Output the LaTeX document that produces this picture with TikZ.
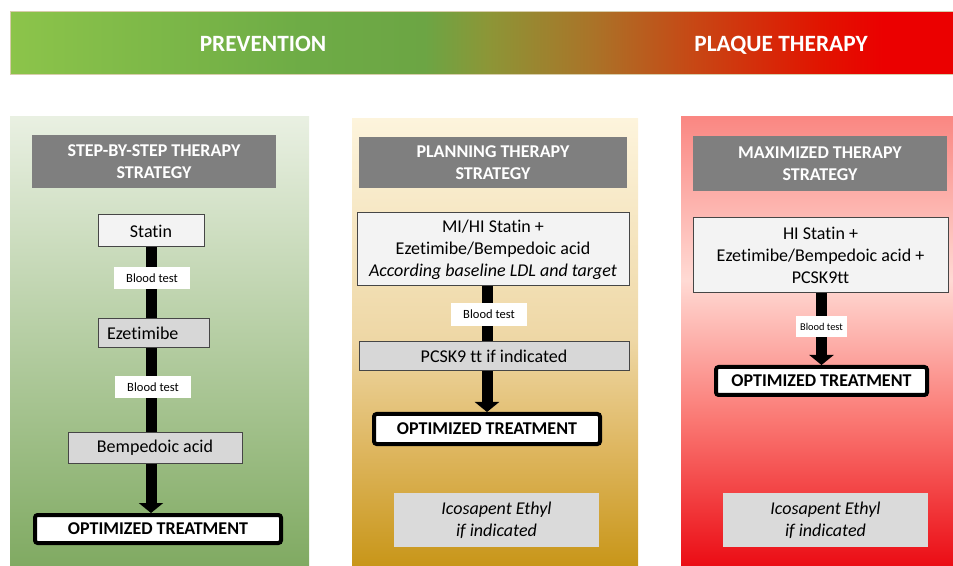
\documentclass[tikz,border=0pt]{standalone}
\usepackage{fontspec}
\setmainfont{Carlito}[Ligatures=NoCommon]
\usetikzlibrary{arrows.meta}

\definecolor{hdrgray}{RGB}{127,127,127}
\definecolor{boxline}{RGB}{70,70,70}
\definecolor{drugfill}{RGB}{215,215,215}
\definecolor{lightfill}{RGB}{243,243,243}
\definecolor{icofill}{RGB}{218,218,218}
\definecolor{banline}{RGB}{215,205,170}
\definecolor{leftTop}{RGB}{233,240,226}
\definecolor{leftBot}{RGB}{128,170,98}

% banner colours, left to right
\definecolor{bnA}{RGB}{140,196,74}
\definecolor{bnB}{RGB}{110,172,70}
\definecolor{bnC}{RGB}{108,165,68}
\definecolor{bnD}{RGB}{140,150,55}
\definecolor{bnE}{RGB}{170,115,40}
\definecolor{bnF}{RGB}{200,70,20}
\definecolor{bnG}{RGB}{225,20,0}
\definecolor{bnH}{RGB}{235,0,0}
\pgfdeclarehorizontalshading{bannershade}{100bp}{color(0bp)=(bnA); color(25bp)=(bnA); color(40.4bp)=(bnB); color(47bp)=(bnC); color(50.3bp)=(bnD); color(55.9bp)=(bnE); color(61.4bp)=(bnF); color(68bp)=(bnG); color(71.3bp)=(bnH); color(100bp)=(bnH)}

% middle panel, bottom to top
\definecolor{midA}{RGB}{200,150,25}
\definecolor{midB}{RGB}{222,182,95}
\definecolor{midC}{RGB}{238,215,165}
\definecolor{midD}{RGB}{253,244,220}
\pgfdeclareverticalshading{planshade}{100bp}{color(0bp)=(midA); color(25bp)=(midA); color(38bp)=(midB); color(50.3bp)=(midC); color(75bp)=(midD); color(100bp)=(midD)}

% right panel, bottom to top
\definecolor{redA}{RGB}{235,12,20}
\definecolor{redB}{RGB}{250,120,115}
\definecolor{redC}{RGB}{255,218,212}
\definecolor{redD}{RGB}{250,135,130}
\pgfdeclareverticalshading{maxshade}{100bp}{color(0bp)=(redA); color(25bp)=(redA); color(41.3bp)=(redB); color(56.8bp)=(redC); color(75bp)=(redD); color(100bp)=(redD)}

\tikzset{every picture/.style={line width=0.75pt},
  bantext/.style={text=white, font=\fontsize{17.5}{20}\selectfont\bfseries, inner sep=0pt, anchor=base},
  hdrbox/.style={fill=hdrgray, text=white, font=\fontsize{13.5}{16.5}\selectfont\bfseries, align=center, inner sep=0pt},
  drugbox/.style={draw=boxline, fill=drugfill, font=\fontsize{13.5}{16.5}\selectfont, align=center, inner sep=0pt},
  lightbox/.style={drugbox, fill=lightfill},
  testbox/.style={fill=white, font=\fontsize{9.4}{11}\selectfont, inner sep=0pt},
  optbox/.style={draw=black, line width=3pt, fill=white, rounded corners=2pt, font=\fontsize{13.5}{16.5}\selectfont\bfseries, inner sep=0pt},
  icobox/.style={fill=icofill, font=\fontsize{13.5}{16.5}\selectfont\itshape, align=center, inner sep=0pt},
  shaft/.style={draw=black, line width=8.25pt},
  shaftend/.style={shaft, -{Triangle[width=18pt,length=7.5pt]}}
}

\begin{document}
\begin{tikzpicture}[x=0.75pt,y=0.75pt,yscale=-1,xscale=1]
	\useasboundingbox (0,0) rectangle (953,566);

	%Banner
	\shade [shading=bannershade, draw=banline] (10,12) rectangle (953,75);
	\node [bantext] (prevtext) at (263,51.5) {PREVENTION};
	\node [bantext] (plaquetext) at (781,51.5) {PLAQUE THERAPY};

	%Panels
	\shade [top color=leftTop, bottom color=leftBot] (10,117) rectangle (309,566);
	\shade [shading=planshade] (352,119) rectangle (638,566);
	\shade [shading=maxshade] (681,117) rectangle (953,566);

	%Step-by-step column
	\node [hdrbox, minimum width=183pt, minimum height=39.75pt] (stephdr) at (154,161.5) {STEP-BY-STEP THERAPY\\STRATEGY};
	\node [lightbox, minimum width=79.5pt, minimum height=24pt] (statin) at (151,231) {Statin};
	\node [drugbox, minimum height=21.75pt, text width=69.75pt, align=left, inner xsep=6.75pt] (ezet) at (153.5,333.5) {Ezetimibe};
	\node [drugbox, minimum width=130.5pt, minimum height=23.25pt] (bemp) at (155,447.5) {Bempedoic acid};
	\node [optbox, minimum width=184.5pt, minimum height=21pt] (optA) at (158,529) {OPTIMIZED TREATMENT};
	\draw [shaft] (statin.south) -- (statin.south |- ezet.north);
	\draw [shaft] (statin.south |- ezet.south) -- (statin.south |- bemp.north);
	\draw [shaftend] (statin.south |- bemp.south) -- (statin.south |- optA.north);
	\node [testbox, minimum width=57pt, minimum height=16.5pt] (testA) at (152,278) {Blood test};
	\node [testbox, minimum width=57pt, minimum height=16.5pt] (testB) at (153,387) {Blood test};

	%Planning column
	\node [hdrbox, minimum width=201pt, minimum height=38.25pt] (planhdr) at (493,162.5) {PLANNING THERAPY\\STRATEGY};
	\node [lightbox, minimum width=204pt, minimum height=54.75pt] (mihi) at (493,249.5) {MI/HI Statin +\\Ezetimibe/Bempedoic acid\\\textit{According baseline LDL and target}};
	\node [drugbox, minimum width=202.5pt, minimum height=21.75pt] (pcsk) at (494,356.5) {PCSK9 tt if indicated};
	\node [optbox, minimum width=169.5pt, minimum height=22.5pt] (optB) at (487,429) {OPTIMIZED TREATMENT};
	\node [icobox, minimum width=153.75pt, minimum height=40.5pt] (icoB) at (496.5,520) {Icosapent Ethyl\\if indicated};
	\draw [shaft] (mihi.south -| optB.north) -- (pcsk.north -| optB.north);
	\draw [shaftend] (pcsk.south -| optB.north) -- (optB.north);
	\node [testbox, minimum width=57pt, minimum height=17.25pt] (testC) at (489,314.5) {Blood test};

	%Maximized column
	\node [hdrbox, minimum width=190.5pt, minimum height=41.25pt] (maxhdr) at (820,163.5) {MAXIMIZED THERAPY\\STRATEGY};
	\node [lightbox, minimum width=191.25pt, minimum height=56.25pt] (histat) at (820.5,255.5) {HI Statin +\\Ezetimibe/Bempedoic acid +\\PCSK9tt};
	\node [optbox, minimum width=158.25pt, minimum height=21pt] (optC) at (821.5,381) {OPTIMIZED TREATMENT};
	\node [icobox, minimum width=153.75pt, minimum height=40.5pt] (icoC) at (825.5,520) {Icosapent Ethyl\\if indicated};
	\draw [shaftend] (histat.south -| optC.north) -- (optC.north);
	\node [testbox, font=\fontsize{7.8}{9}\selectfont, minimum width=38.25pt, minimum height=15.75pt] (testD) at (821.5,326.5) {Blood test};
\end{tikzpicture}
\end{document}
